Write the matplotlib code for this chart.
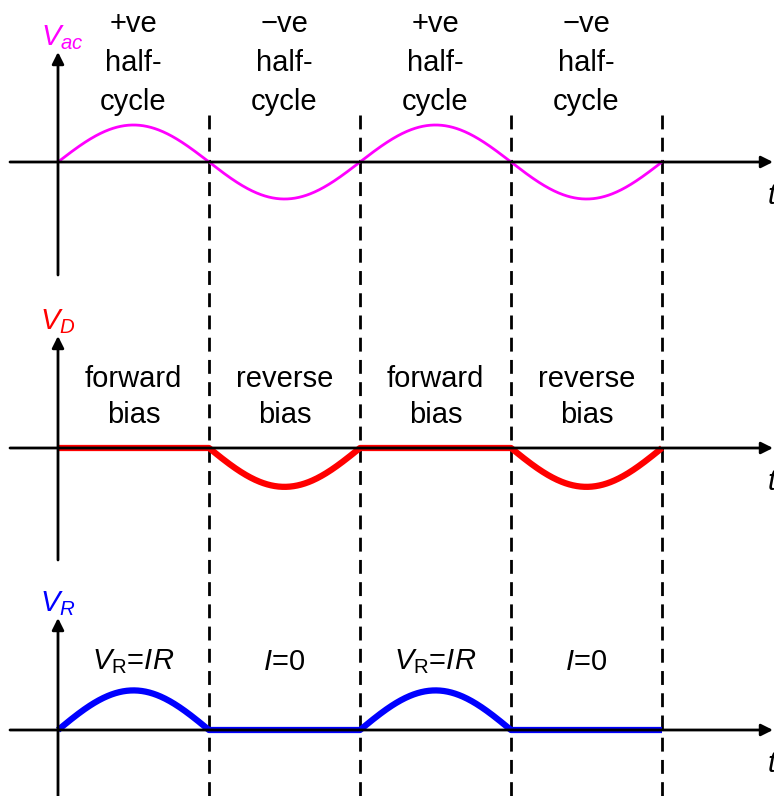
import numpy as np
import matplotlib.pyplot as plt

plt.rcParams['font.family'] = ['Liberation Sans', 'DejaVu Sans']
plt.rcParams['mathtext.fontset'] = 'custom'
plt.rcParams['mathtext.rm'] = 'Liberation Sans'
plt.rcParams['mathtext.it'] = 'Liberation Sans:italic'

# half-cycle annotations for each trace
cycle_labels = ["+ve\nhalf-\ncycle", "\u2212ve\nhalf-\ncycle", "+ve\nhalf-\ncycle", "\u2212ve\nhalf-\ncycle"]
bias_labels = ["forward\nbias", "reverse\nbias", "forward\nbias", "reverse\nbias"]
current_labels = [r"$V_\mathrm{R}$=$IR$", r"$I$=0", r"$V_\mathrm{R}$=$IR$", r"$I$=0"]

# peak amplitudes (normalised) of the three traces
amp_ac = 1.0
amp_d = 1.05
amp_r = 1.07
n_half = 4

# layout: x in half-cycles, y in pixels (downwards)
x0_px, half_px = 58, 151
base = [162, 448, 730]
scale = 37
fs = 21

fig = plt.figure(figsize=(7.74, 7.96), dpi=100)
ax = fig.add_axes([0, 0, 1, 1])
ax.set_xlim(-x0_px / half_px, (774 - x0_px) / half_px)
ax.set_ylim(796, 0)
ax.axis('off')

t = np.linspace(0, n_half, 801)
s = np.sin(np.pi * t)
v_ac = amp_ac * s
v_d = np.where(s < 0, amp_d * s, 0)
v_r = np.where(s > 0, amp_r * s, 0)

# dashed dividers between half-cycles
for k in range(1, n_half + 1):
    ax.plot([k, k], [115, 796], color='black', lw=2, ls=(0, (5, 3)))

arrow = dict(arrowstyle='-|>,head_length=0.7,head_width=0.35', color='black', lw=2,
             shrinkA=0, shrinkB=0)
y_tops = [52, 336, 618]
y_bots = [275, 560, 796]
x_right = (773 - x0_px) / half_px
for b, top, bot in zip(base, y_tops, y_bots):
    ax.annotate('', xy=(0, top), xytext=(0, bot), arrowprops=arrow)
    ax.annotate('', xy=(x_right, b), xytext=(-48 / half_px, b), arrowprops=arrow)
    ax.text((767 - x0_px) / half_px, b + 34, '$t$', fontsize=fs, ha='left', va='center')

ax.plot(t, base[0] - scale * v_ac, color='#ff00ff', lw=2)
ax.plot(t, base[1] - scale * v_d, color='#ff0000', lw=4.5, solid_capstyle='butt')
ax.plot(t, base[2] - scale * v_r, color='#0000ff', lw=4.5, solid_capstyle='butt')

ax.text(0.03, 38, '$V_{ac}$', color='#ff00ff', fontsize=fs, ha='center', va='center')
ax.text(0.0, 322, '$V_D$', color='#ff0000', fontsize=fs, ha='center', va='center')
ax.text(0.0, 604, '$V_R$', color='#0000ff', fontsize=fs, ha='center', va='center')

for k in range(n_half):
    xc = k + 0.5
    ax.text(xc, 63, cycle_labels[k], fontsize=fs, ha='center', va='center',
            linespacing=1.5)
    ax.text(xc, 397, bias_labels[k], fontsize=fs, ha='center', va='center',
            linespacing=1.4)
    ax.text(xc, 662, current_labels[k], fontsize=fs, ha='center', va='center')

fig.savefig('out.png', dpi=100)
